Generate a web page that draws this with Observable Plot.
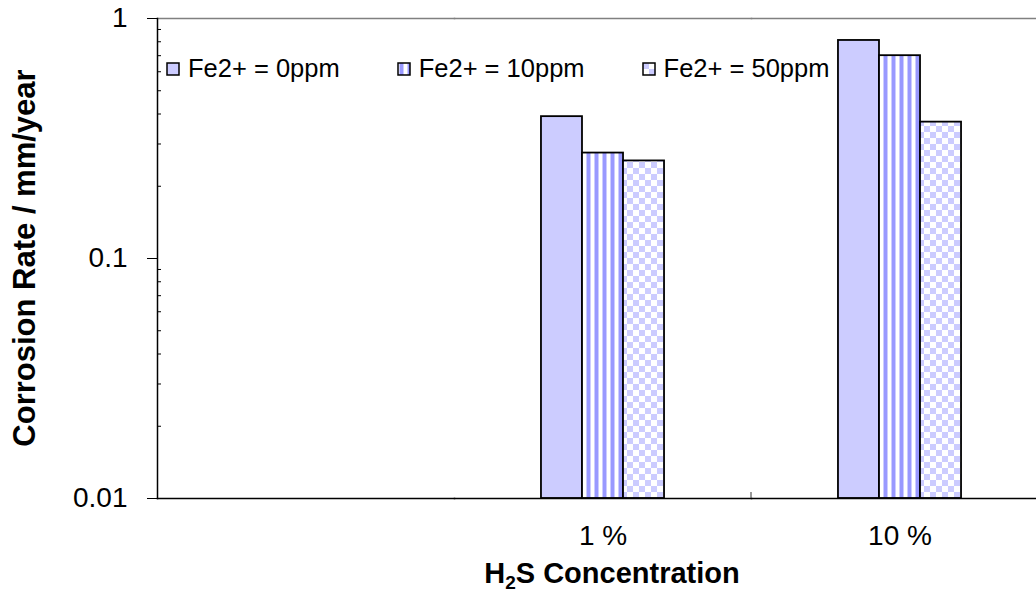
<!DOCTYPE html>
<html><head><meta charset="utf-8">
<script src="https://cdn.jsdelivr.net/npm/d3@7"></script>
<script src="https://cdn.jsdelivr.net/npm/@observablehq/plot@0.6"></script>
<style>
html,body{margin:0;padding:0;background:#fff;overflow:hidden;}
#wrap{position:relative;width:1036px;height:596px;overflow:hidden;font-family:"Liberation Sans",Arial,sans-serif;}
#wrap > svg{max-width:none !important;}
#legend{position:absolute;left:167px;top:52px;}
#legend .lg-swatches{font-family:"Liberation Sans",Arial,sans-serif !important;font-size:25.5px !important;margin:0 !important;color:#000;}
#legend .lg-swatch{margin-right:58px !important;}
#legend .lg-swatch > svg{margin-right:9px !important;overflow:visible;}
#legend .lg-swatch svg rect{stroke:#000;stroke-width:1.5px;}
</style></head><body>
<svg width="0" height="0" style="position:absolute">
<defs>
<pattern id="stripes" patternUnits="userSpaceOnUse" width="8" height="8">
<rect width="8" height="8" fill="#ffffff"/>
<rect x="1" width="5" height="8" fill="#ccccff"/>
<rect x="2" width="3" height="8" fill="#9999ff"/>
</pattern>
<pattern id="checks" patternUnits="userSpaceOnUse" width="12" height="12">
<rect width="12" height="12" fill="#ffffff"/>
<rect width="6" height="6" fill="#ccccff"/>
<rect x="6" y="6" width="6" height="6" fill="#ccccff"/>
</pattern>
</defs></svg>
<div id="wrap"><div id="legend"></div></div>
<script>
const categories = ["", "1 %", "10 %"];
const seriesNames = ["Fe2+ = 0ppm", "Fe2+ = 10ppm", "Fe2+ = 50ppm"];
const fe0 = [null, 0.39, 0.81];
const fe10 = [null, 0.275, 0.70];
const fe50 = [null, 0.255, 0.37];
const yTicks = [0.01, 0.1, 1];
const yMinorTicks = [0.02, 0.03, 0.04, 0.05, 0.06, 0.07, 0.08, 0.09, 0.2, 0.3, 0.4, 0.5, 0.6, 0.7, 0.8, 0.9];
const seriesFills = ["#ccccff", "url(#stripes)", "url(#checks)"];
const yDomain = [0.01, 1];

// every category gets its rows (missing values stay null and draw nothing)
const rows = [];
[fe0, fe10, fe50].forEach((vals, s) => vals.forEach((v, c) => {
  rows.push({conc: categories[c], series: seriesNames[s], rate: v});
}));

const font = '"Liberation Sans", Arial, sans-serif';
const chart = Plot.plot({
  width: 1060, height: 596,
  marginLeft: 157, marginRight: 12, marginTop: 18, marginBottom: 98,
  style: {fontFamily: font, fontSize: "28px", color: "black", background: "white", overflow: "visible", maxWidth: "none"},
  fx: {domain: categories, padding: 0, round: false, label: null},
  x: {domain: seriesNames, paddingInner: 0, paddingOuter: 2.12, round: false, axis: null},
  y: {type: "log", domain: yDomain},
  color: {type: "ordinal", domain: seriesNames, range: seriesFills},
  marks: [
    Plot.frame({anchor: "top", stroke: "#808080", strokeWidth: 1.5}),
    Plot.barY(rows, {fx: "conc", x: "series", y1: yDomain[0], y2: "rate", fill: "series", stroke: "black", strokeWidth: 1.8}),
    Plot.frame({anchor: "bottom", stroke: "black", strokeWidth: 1.5}),
    Plot.frame({anchor: "left", stroke: "black", strokeWidth: 1.5, facetAnchor: "left"}),
    Plot.axisY({ticks: yTicks, tickFormat: d => String(d), tickSize: 10, tickPadding: 20, fontSize: 28, label: null, facetAnchor: "left"}),
    Plot.axisY({ticks: yMinorTicks, tickSize: -4, tickFormat: () => "", label: null, facetAnchor: "left"}),
    Plot.axisFx({anchor: "bottom", tickSize: 0, tickPadding: 27, fontSize: 28, label: null})
  ]
});
document.getElementById("wrap").appendChild(chart);

// category boundary ticks and axis titles, placed with the chart's own scales
const fx = chart.scale("fx"), y = chart.scale("y");
const svg = d3.select(chart);
const y0 = y.apply(yDomain[0]), y1 = y.apply(yDomain[1]);
const bx = fx.apply(categories[2]);
[bx, bx + fx.bandwidth].forEach(px => {
  svg.append("line").attr("x1", px).attr("x2", px).attr("y1", y0 - 6).attr("y2", y0)
    .attr("stroke", "#555").attr("stroke-width", 1.2);
});
svg.append("text")
  .attr("transform", `translate(35,${(y0 + y1) / 2}) rotate(-90)`)
  .attr("text-anchor", "middle").attr("font-weight", "bold").attr("font-size", 31)
  .attr("font-family", font).attr("fill", "black")
  .text("Corrosion Rate / mm/year");
const xt = svg.append("text").attr("x", 612).attr("y", 583)
  .attr("text-anchor", "middle").attr("font-weight", "bold").attr("font-size", 29)
  .attr("font-family", font).attr("fill", "black");
xt.append("tspan").text("H");
xt.append("tspan").attr("font-size", 19).attr("dy", 6).text("2");
xt.append("tspan").attr("dy", -6).text("S Concentration");

const legend = chart.legend("color", {className: "lg", swatchSize: 12});
document.getElementById("legend").appendChild(legend);
</script>
</body></html>
